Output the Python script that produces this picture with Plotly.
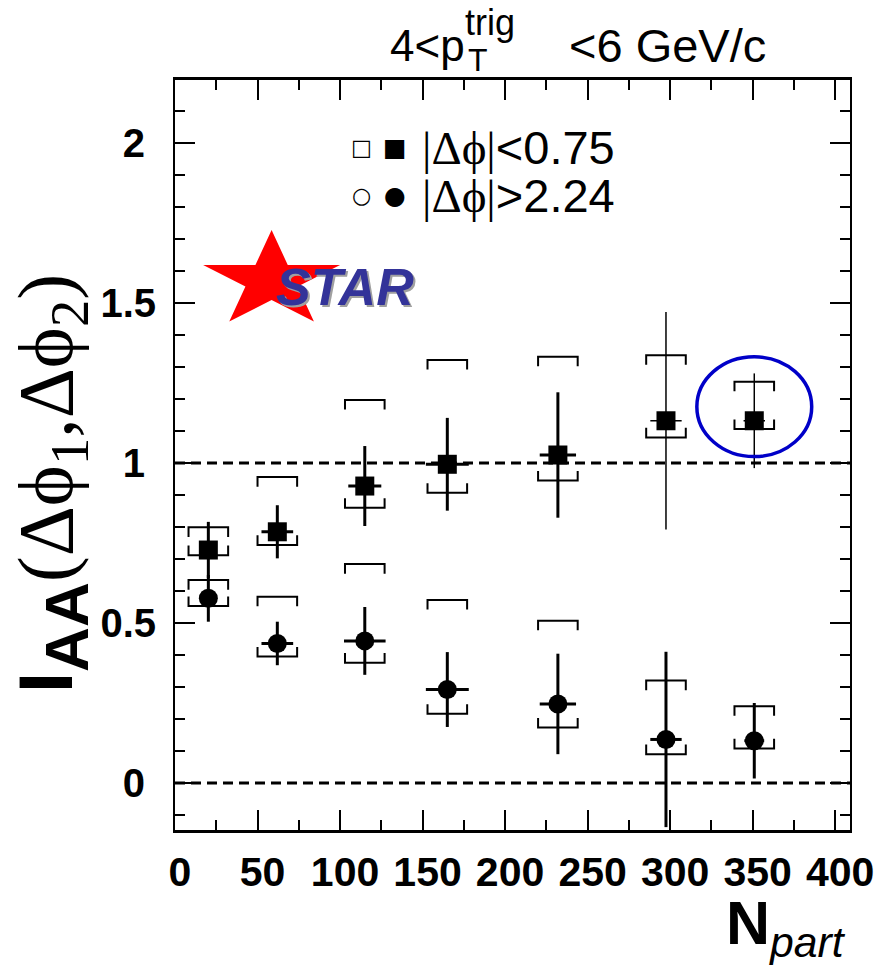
import math
import plotly.graph_objects as go

# ---------------------------------------------------------------------------
# I_AA vs N_part, 4 < pT(trig) < 6 GeV/c
# ---------------------------------------------------------------------------
n_part = [20.2, 62.0, 115.0, 165.0, 232.0, 297.5, 351.0]

# near side  |dphi| < 0.75
near_iaa = [0.728, 0.785, 0.928, 0.996, 1.025, 1.132, 1.132]
near_stat = [0.088, 0.083, 0.125, 0.145, 0.196, 0.340, 0.148]
near_sys_hi = [0.799, 0.956, 1.197, 1.322, 1.332, 1.337, 1.254]
near_sys_lo = [0.712, 0.744, 0.860, 0.907, 0.945, 1.080, 1.106]
near_npart_err = [5.0, 9.6, 10.0, 13.0, 11.0, 9.5, 6.5]

# away side  |dphi| > 2.24
away_iaa = [0.577, 0.436, 0.444, 0.292, 0.247, 0.136, 0.132]
away_stat = [0.073, 0.068, 0.106, 0.117, 0.157, 0.274, 0.118]
away_sys_hi = [0.634, 0.582, 0.684, 0.572, 0.507, 0.320, 0.240]
away_sys_lo = [0.553, 0.395, 0.376, 0.216, 0.173, 0.090, 0.108]
away_npart_err = [5.0, 9.6, 12.6, 13.0, 11.0, 9.5, 6.0]

y_tick_vals = [0, 0.5, 1, 1.5, 2]
y_tick_text = ["0", "0.5", "1", "1.5", "2"]

ref_levels = [0.0, 1.0]
x_range = [0, 409]
y_range = [-0.147, 2.197]
highlight_index = 6

# plot-area geometry in pixels (used for paper-coordinate annotations)
L, T, W, H = 175, 80, 675, 750


def px(xp):
    return (xp - L) / W


def py(yp):
    return (T + H - yp) / H


def bracket_path(xs, tops, bottoms, half_w=12.0, tick=0.03):
    """Systematic-error brackets: upper one opening down, lower one opening up."""
    bx, by = [], []
    for x, hi, lo in zip(xs, tops, bottoms):
        bx += [x - half_w, x - half_w, x + half_w, x + half_w, None]
        by += [hi - tick, hi, hi, hi - tick, None]
        bx += [x - half_w, x - half_w, x + half_w, x + half_w, None]
        by += [lo + tick, lo, lo, lo + tick, None]
    return bx, by


fig = go.Figure()

# systematic brackets
for hi, lo in ((near_sys_hi, near_sys_lo), (away_sys_hi, away_sys_lo)):
    bx, by = bracket_path(n_part, hi, lo)
    fig.add_trace(go.Scatter(x=bx, y=by, mode="lines",
                             line=dict(color="black", width=2),
                             hoverinfo="skip"))


def points(sl, y, stat, xerr, symbol, size, thick):
    return go.Scatter(
        x=n_part[sl], y=y[sl], mode="markers",
        marker=dict(symbol=symbol, size=size, color="black"),
        error_y=dict(type="data", array=stat[sl], width=0,
                     thickness=thick, color="black"),
        error_x=dict(type="data", array=xerr[sl], width=0,
                     thickness=thick, color="black"),
    )


# away side (circles)
fig.add_trace(points(slice(0, 7), away_iaa, away_stat, away_npart_err,
                     "circle", 19, 3))
# near side (squares); last two centralities drawn with thin bars
fig.add_trace(points(slice(0, 5), near_iaa, near_stat, near_npart_err,
                     "square", 19, 3))
fig.add_trace(points(slice(5, 7), near_iaa, near_stat, near_npart_err,
                     "square", 19, 1.5))

shapes = []
for lvl in ref_levels:
    shapes.append(dict(type="line", xref="paper", x0=0, x1=1, yref="y",
                       y0=lvl, y1=lvl,
                       line=dict(color="black", width=3, dash="10px,6px"),
                       layer="below"))

# highlight ellipse around the most central near-side point
hx, hy = n_part[highlight_index], near_iaa[highlight_index] + 0.044
shapes.append(dict(type="circle", xref="x", yref="y",
                   x0=hx - 34.8, x1=hx + 34.8, y0=hy - 0.156, y1=hy + 0.156,
                   line=dict(color="#0000c8", width=3.5)))

# STAR logo star
cx, cy, rx, ry = 271.6, 280.6, 72.0, 50.6
pts = []
for k in range(10):
    ang = math.pi / 2 + k * math.pi / 5
    r = 1.0 if k % 2 == 0 else 0.382
    pts.append((px(cx + r * rx * math.cos(ang)),
                py(cy - r * ry * math.sin(ang))))
path = "M " + " L ".join(f"{a:.5f},{b:.5f}" for a, b in pts) + " Z"
shapes.append(dict(type="path", xref="paper", yref="paper", path=path,
                   fillcolor="#ff0000", line=dict(width=0)))

ann = []
sans = "Liberation Sans"
serif = "Liberation Serif"


def label(xp, yp, text, size, xanchor="left", family=sans, color="black",
          **kw):
    ann.append(dict(xref="paper", yref="paper", x=px(xp), y=py(yp),
                    xanchor=xanchor, yanchor="middle", showarrow=False,
                    text=text, font=dict(family=family, size=size,
                                         color=color), **kw))


# STAR text with drop shadow
label(347, 289, "<b><i>STAR</i></b>", 52, "center", color="#a0a0a0")
label(345, 287, "<b><i>STAR</i></b>", 52, "center", color="#333399")

# title pieces
label(388, 45, "4&lt;p", 44)
label(463, 23, "trig", 36)
label(466, 60, "T", 32)
label(768, 45, "&lt;6 GeV/c", 47, "right")

# legend
for yrow, sym_open, sym_fill, text in ((147, "□", "■", "&lt;0.75"),
                                       (195, "○", "●", "&gt;2.24")):
    label(361, yrow, sym_open, 22, "center", family="DejaVu Sans")
    label(395, yrow, sym_fill, 25, "center", family="DejaVu Sans")
    label(420, yrow,
          f'<span style="font-family:{serif}">|Δϕ|</span>{text}', 47)

# y axis title
ann.append(dict(xref="paper", yref="paper", x=px(52), y=py(484),
                xanchor="center", yanchor="middle",
                textangle=-90, showarrow=False,
                text=('<b>I<sub><span style="font-size:62px">AA</span></sub></b>'
                      f'<span style="font-family:{serif};font-size:78px">'
                      '(Δϕ<sub>1</sub>,Δϕ<sub>2</sub>)</span>'),
                font=dict(family=sans, size=76, color="black")))

# x axis title
label(848, 927, "<b>N</b><sub><i>part</i></sub>", 61, "right")

fig.update_layout(
    width=878, height=965,
    margin=dict(l=L, r=878 - L - W, t=T, b=965 - T - H, autoexpand=False),
    plot_bgcolor="white", paper_bgcolor="white",
    showlegend=False, shapes=shapes, annotations=ann,
)

axis_common = dict(
    ticks="inside", ticklen=20, tickwidth=2, tickcolor="black",
    showline=True, linecolor="black", mirror="allticks",
    showgrid=False, zeroline=False, automargin=False,
)
fig.update_xaxes(range=x_range, tickmode="linear", tick0=0, dtick=50,
                 linewidth=3, ticklabelshift=5, ticklabelstandoff=4,
                 tickfont=dict(family=sans, size=41, color="black",
                               weight="bold"),
                 minor=dict(dtick=25, ticklen=10, tickwidth=2,
                            ticks="inside", tickcolor="black", showgrid=False),
                 **axis_common)
# short labels padded with a narrow space so the column reads centred
fig.update_yaxes(range=y_range, tickmode="array", tickvals=y_tick_vals,
                 ticktext=[t if len(t) > 1 else t + "\u2008"
                           for t in y_tick_text],
                 linewidth=2, ticklabelstandoff=9,
                 tickfont=dict(family=sans, size=40, color="black",
                               weight="bold"),
                 minor=dict(tickmode="linear", tick0=0, dtick=0.1,
                            ticklen=10, tickwidth=2,
                            ticks="inside", tickcolor="black", showgrid=False),
                 **axis_common)

fig.write_html("out.html")
